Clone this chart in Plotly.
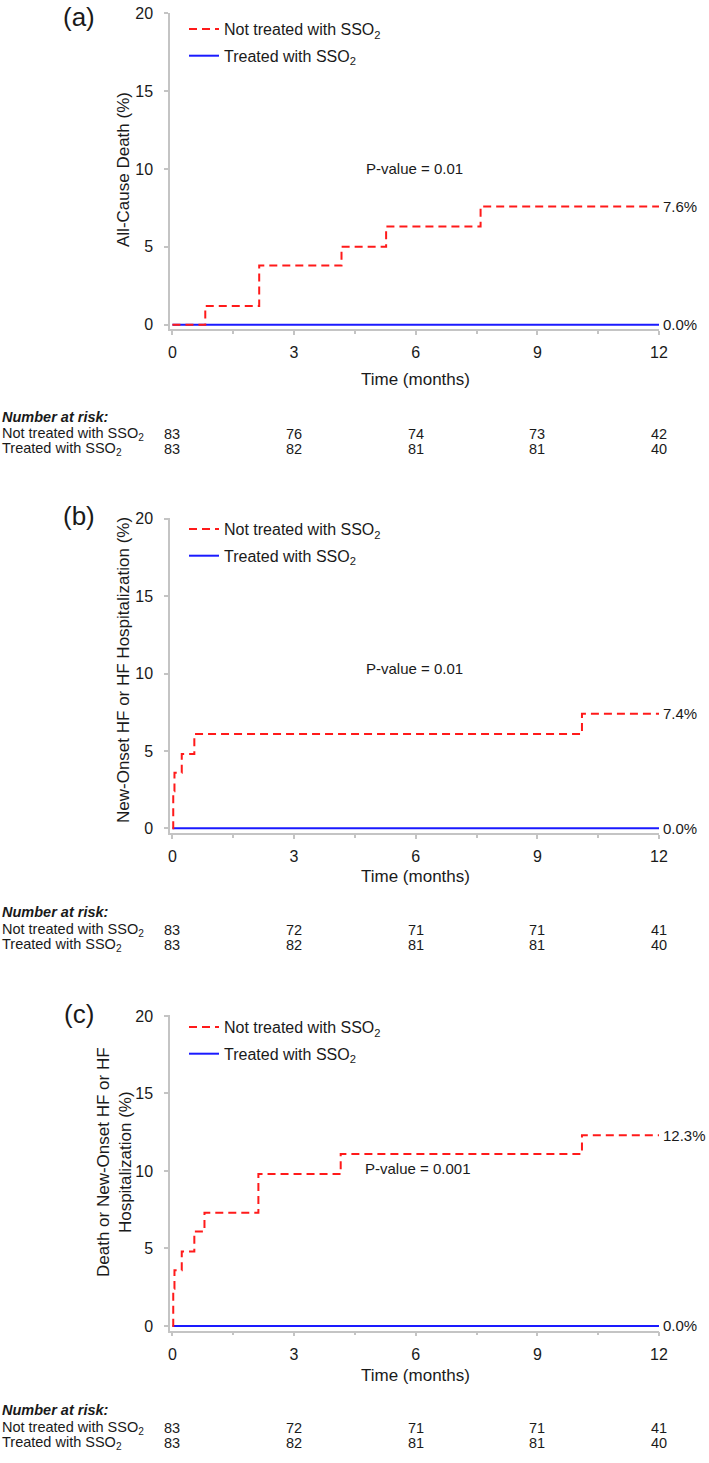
import plotly.graph_objects as go

# ---------------- data ----------------
panel_labels = ["(a)", "(b)", "(c)"]
y_titles = ["All-Cause Death (%)",
            "New-Onset HF or HF Hospitalization (%)",
            "Death or New-Onset HF or HF<br>Hospitalization (%)"]
p_values = ["P-value = 0.01", "P-value = 0.01", "P-value = 0.001"]

time_not_a = [0, 0.81, 2.14, 4.17, 5.27, 7.6, 12]
cum_not_a = [0, 1.2, 3.8, 5.0, 6.3, 7.6, 7.6]
time_not_b = [0, 0.02, 0.05, 0.23, 0.54, 10.1, 12]
cum_not_b = [0, 2.4, 3.6, 4.8, 6.1, 7.4, 7.4]
time_not_c = [0, 0.02, 0.05, 0.23, 0.54, 0.79, 2.12, 4.15, 10.1, 12]
cum_not_c = [0, 2.4, 3.6, 4.8, 6.1, 7.3, 9.8, 11.1, 12.3, 12.3]
time_trt = [0, 12]
cum_trt = [0, 0]

end_not = ["7.6%", "7.4%", "12.3%"]
end_trt = ["0.0%", "0.0%", "0.0%"]

risk_times = [0, 3, 6, 9, 12]
risk_not_a = [83, 76, 74, 73, 42]
risk_trt_a = [83, 82, 81, 81, 40]
risk_not_b = [83, 72, 71, 71, 41]
risk_trt_b = [83, 82, 81, 81, 40]
risk_not_c = [83, 72, 71, 71, 41]
risk_trt_c = [83, 82, 81, 81, 40]

x_ticks = [0, 3, 6, 9, 12]
y_ticks = [0, 5, 10, 15, 20]

series_not = [(time_not_a, cum_not_a), (time_not_b, cum_not_b), (time_not_c, cum_not_c)]
risk_not = [risk_not_a, risk_not_b, risk_not_c]
risk_trt = [risk_trt_a, risk_trt_b, risk_trt_c]

# ---------------- layout geometry (pixels) ----------------
W, H = 709, 1463
FONT = "Liberation Sans, Arial, Helvetica, sans-serif"
RED = "#ff1a1a"
BLUE = "#1a1aff"
AX = "#c4c4c4"

def py(p):
    return 1 - p / H

def px(p):
    return p / W

panel_px = [(12.7, 329.3), (518.1, 833.0), (1015.2, 1330.6)]
ytitle_px = [(123, 170), (123, 670), (114, 1162)]
pval_px = [(414, 169), (414, 669), (418, 1168)]
xtitle_py = [380, 876, 1375]
label_py = [17, 516, 1014]
legend_py = [12, 512, 1010]
risk_head_py = [417, 912, 1410]
risk_row_py = [(434, 449), (930, 945), (1428, 1443)]

fig = go.Figure()
legend_names = ["legend", "legend2", "legend3"]

for i in range(3):
    xa = "x" if i == 0 else f"x{i+1}"
    ya = "y" if i == 0 else f"y{i+1}"
    tx, ty = series_not[i]
    fig.add_trace(go.Scatter(
        x=time_trt, y=cum_trt, mode="lines", line=dict(color=BLUE, width=2),
        name="Treated with SSO<sub>2</sub>", xaxis=xa, yaxis=ya, legendrank=2,
        legend=legend_names[i], legendgroup=f"t{i}", hoverinfo="skip"))
    fig.add_trace(go.Scatter(
        x=tx, y=ty, mode="lines", line=dict(color=RED, width=2, dash="8px,5px", shape="hv"),
        name="Not treated with SSO<sub>2</sub>", xaxis=xa, yaxis=ya, legendrank=1,
        legend=legend_names[i], legendgroup=f"n{i}", hoverinfo="skip"))

layout = dict(
    width=W, height=H,
    margin=dict(l=0, r=0, t=0, b=0, autoexpand=False),
    paper_bgcolor="white", plot_bgcolor="white",
    font=dict(family=FONT, color="#1a1a1a", size=14),
    annotations=[], showlegend=True,
)

for i in range(3):
    top, bot = panel_px[i]
    xk = "xaxis" if i == 0 else f"xaxis{i+1}"
    yk = "yaxis" if i == 0 else f"yaxis{i+1}"
    ya = "y" if i == 0 else f"y{i+1}"
    xa = "x" if i == 0 else f"x{i+1}"
    layout[xk] = dict(
        domain=[px(170), px(659)], range=[-0.06, 12], anchor=ya, automargin=False,
        tickvals=x_ticks, ticks="outside", ticklen=4, tickwidth=1.5, tickcolor=AX,
        showline=True, linecolor=AX, linewidth=1.5, showgrid=False, zeroline=False,
        tickfont=dict(size=16), ticklabelstandoff=4,
        minor=dict(tickvals=[1.5, 4.5, 7.5, 10.5], ticks="outside", ticklen=3, tickcolor=AX, tickwidth=1.5),
    )
    layout[yk] = dict(
        domain=[py(bot), py(top)], range=[-0.3, 20.05], anchor=xa, automargin=False,
        tickvals=y_ticks, ticks="outside", ticklen=4, tickwidth=1.5, tickcolor=AX,
        showline=True, linecolor=AX, linewidth=1.5, showgrid=False, zeroline=False,
        tickfont=dict(size=16), ticklabelstandoff=8,
    )
    layout[legend_names[i]] = dict(
        x=px(184), xanchor="left", y=py(legend_py[i]), yanchor="top",
        bgcolor="rgba(0,0,0,0)", font=dict(size=16, family=FONT, color="#1a1a1a"),
        traceorder="grouped", tracegroupgap=3, itemwidth=30,
    )
    ann = layout["annotations"]
    ann.append(dict(text=panel_labels[i], x=px(79), y=py(label_py[i]), xref="paper", yref="paper",
                    xanchor="center", yanchor="middle", showarrow=False, font=dict(size=26)))
    ann.append(dict(text=y_titles[i], x=px(ytitle_px[i][0]), y=py(ytitle_px[i][1]), xref="paper", yref="paper",
                    xanchor="center", yanchor="middle", showarrow=False, textangle=-90, font=dict(size=17)))
    ann.append(dict(text="Time (months)", x=px(415), y=py(xtitle_py[i]), xref="paper", yref="paper",
                    xanchor="center", yanchor="middle", showarrow=False, font=dict(size=17)))
    ann.append(dict(text=p_values[i], x=px(pval_px[i][0]), y=py(pval_px[i][1]), xref="paper", yref="paper",
                    xanchor="center", yanchor="middle", showarrow=False, font=dict(size=15)))
    tx, ty = series_not[i]
    ann.append(dict(text=end_not[i], x=tx[-1], y=ty[-1], xref=xa, yref=ya, xshift=2,
                    xanchor="left", yanchor="middle", showarrow=False, font=dict(size=15)))
    ann.append(dict(text=end_trt[i], x=time_trt[-1], y=cum_trt[-1], xref=xa, yref=ya, xshift=2,
                    xanchor="left", yanchor="middle", showarrow=False, font=dict(size=15)))
    ann.append(dict(text="<b><i>Number at risk:</i></b>", x=0, y=py(risk_head_py[i]), xref="paper", yref="paper",
                    xanchor="left", yanchor="middle", showarrow=False, font=dict(size=14.5)))
    ann.append(dict(text="Not treated with SSO<sub>2</sub>", x=0, y=py(risk_row_py[i][0]), xref="paper", yref="paper",
                    xanchor="left", yanchor="middle", showarrow=False, font=dict(size=14.5)))
    ann.append(dict(text="Treated with SSO<sub>2</sub>", x=0, y=py(risk_row_py[i][1]), xref="paper", yref="paper",
                    xanchor="left", yanchor="middle", showarrow=False, font=dict(size=14.5)))
    for t, n1, n2 in zip(risk_times, risk_not[i], risk_trt[i]):
        ann.append(dict(text=str(n1), x=t, y=py(risk_row_py[i][0]), xref=xa, yref="paper",
                        xanchor="center", yanchor="middle", showarrow=False, font=dict(size=14.5)))
        ann.append(dict(text=str(n2), x=t, y=py(risk_row_py[i][1]), xref=xa, yref="paper",
                        xanchor="center", yanchor="middle", showarrow=False, font=dict(size=14.5)))

fig.update_layout(**layout)
fig.write_html("out.html", config={"displayModeBar": False},
               post_script="document.body.style.margin='0';document.body.style.overflow='hidden';")
